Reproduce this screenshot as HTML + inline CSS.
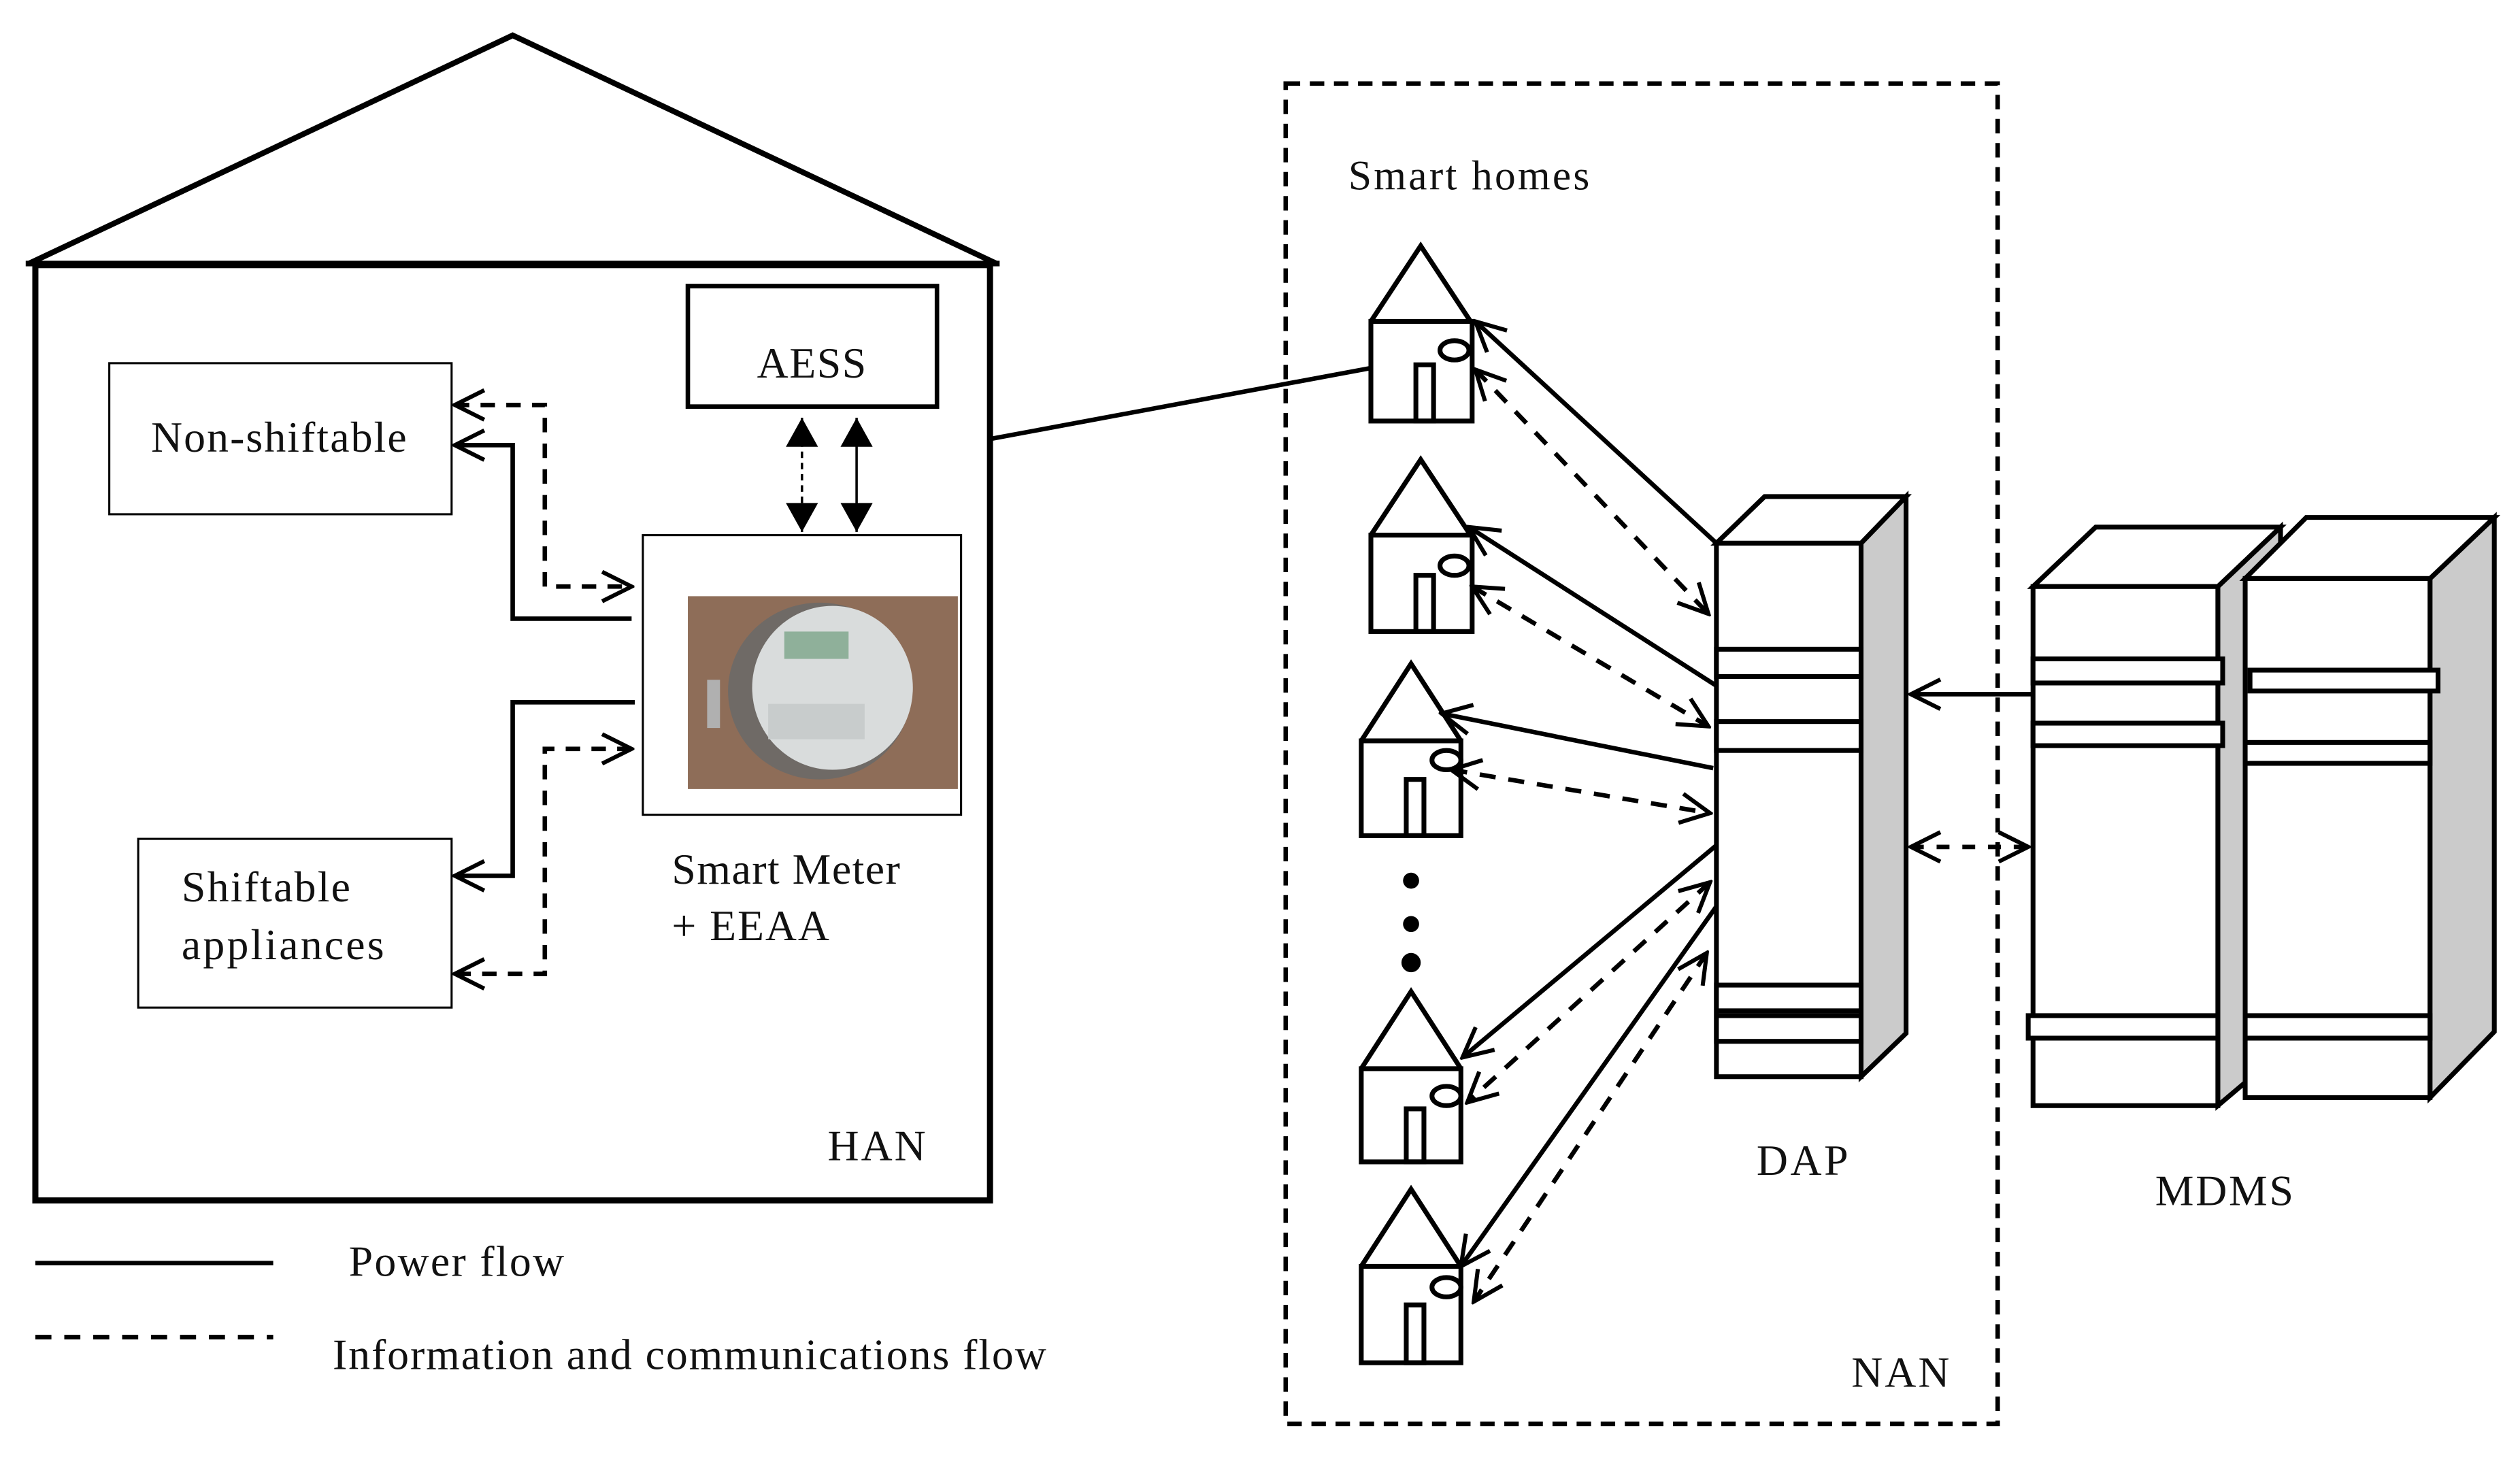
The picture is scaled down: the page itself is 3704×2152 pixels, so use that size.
<!DOCTYPE html>
<html><head><meta charset="utf-8"><style>
html,body{margin:0;padding:0;background:#fff;}
svg{display:block;}
text{font-family:"Liberation Serif",serif;fill:#111;}
</style></head><body>
<svg width="3704" height="2152" viewBox="0 0 1568 911" preserveAspectRatio="none" xmlns="http://www.w3.org/2000/svg">
<defs>
<marker id="oa" viewBox="0 0 24 24" markerWidth="22" markerHeight="22" markerUnits="userSpaceOnUse" refX="22" refY="12" orient="auto-start-reverse">
<path d="M2,2 L22,12 L2,22" fill="none" stroke="#000" stroke-width="2.8"/>
</marker>
<marker id="ft" viewBox="0 0 20 20" markerWidth="20" markerHeight="20" markerUnits="userSpaceOnUse" refX="19" refY="10" orient="auto-start-reverse">
<path d="M1,0 L19,10 L1,20 Z" fill="#000"/>
</marker>
</defs>
<rect width="1568" height="911" fill="#fff"/>

<polyline points="18,164 319,22 620,164" fill="none" stroke="#000" stroke-width="3.5"/>
<line x1="16" y1="164" x2="622" y2="164" stroke="#000" stroke-width="3.5"/>
<rect x="22" y="165" width="594" height="582" fill="none" stroke="#000" stroke-width="3.8"/>

<rect x="428" y="178" width="155" height="75" fill="none" stroke="#000" stroke-width="2.8"/>
<text x="505" y="235" font-size="27" text-anchor="middle" textLength="68">AESS</text>

<rect x="68" y="226" width="213" height="94" fill="none" stroke="#000" stroke-width="1.3"/>
<text x="94" y="281" font-size="27" textLength="159">Non-shiftable</text>

<rect x="86" y="522" width="195" height="105" fill="none" stroke="#000" stroke-width="1.3"/>
<text x="113" y="561" font-size="27" textLength="105">Shiftable</text>
<text x="113" y="597" font-size="27" textLength="126">appliances</text>

<rect x="400" y="333" width="198" height="174" fill="#fff" stroke="#000" stroke-width="1.3"/>
<rect x="428" y="371" width="168" height="120" fill="#8e6d58"/>
<ellipse cx="510" cy="430" rx="57" ry="55" fill="#6f6a66"/>
<ellipse cx="518" cy="428" rx="50" ry="51" fill="#d9dcdc"/>
<rect x="488" y="393" width="40" height="17" fill="#8fb09a"/>
<rect x="478" y="438" width="60" height="22" fill="#c8cccc"/>
<rect x="440" y="423" width="8" height="30" fill="#b0b0b0"/>
<text x="418" y="550" font-size="27" textLength="142">Smart Meter</text>
<text x="418" y="585" font-size="27" textLength="98">+ EEAA</text>

<text x="515" y="722" font-size="27" textLength="61">HAN</text>

<polyline points="393,385 319,385 319,277 283,277" fill="none" stroke="#000" stroke-width="2.8" marker-end="url(#oa)"/>
<polyline points="283,252 339,252 339,365 393,365" fill="none" stroke="#000" stroke-width="2.8" stroke-dasharray="9,7" marker-start="url(#oa)" marker-end="url(#oa)"/>
<polyline points="395,437 319,437 319,545 283,545" fill="none" stroke="#000" stroke-width="2.8" marker-end="url(#oa)"/>
<polyline points="393,466 339,466 339,606 283,606" fill="none" stroke="#000" stroke-width="2.8" stroke-dasharray="9,7" marker-start="url(#oa)" marker-end="url(#oa)"/>
<line x1="499" y1="260" x2="499" y2="331" stroke="#000" stroke-width="1.5" stroke-dasharray="4,3" marker-start="url(#ft)" marker-end="url(#ft)"/>
<line x1="533" y1="260" x2="533" y2="331" stroke="#000" stroke-width="1.5" marker-start="url(#ft)" marker-end="url(#ft)"/>

<line x1="22" y1="786" x2="170" y2="786" stroke="#000" stroke-width="2.8"/>
<text x="217" y="794" font-size="27" textLength="134">Power flow</text>
<line x1="22" y1="832" x2="170" y2="832" stroke="#000" stroke-width="2.8" stroke-dasharray="10,8"/>
<text x="207" y="852" font-size="27" textLength="444">Information and communications flow</text>

<line x1="617" y1="273" x2="853" y2="229" stroke="#000" stroke-width="2.8"/>

<rect x="800" y="52" width="443" height="834" fill="none" stroke="#000" stroke-width="2.8" stroke-dasharray="9,6"/>
<text x="839" y="118" font-size="26" textLength="150">Smart homes</text>
<text x="1152" y="863" font-size="27" textLength="61">NAN</text>

<g fill="none" stroke="#000" stroke-width="3">
<polyline points="853,200 884,153 915,200"/><rect x="853" y="200" width="63" height="62"/><rect x="881" y="227" width="11" height="35"/><ellipse cx="905" cy="218" rx="9" ry="6"/>
<polyline points="853,333 884,286 915,333"/><rect x="853" y="333" width="63" height="60"/><rect x="881" y="358" width="11" height="35"/><ellipse cx="905" cy="352" rx="9" ry="6"/>
<polyline points="847,461 878,413 909,461"/><rect x="847" y="461" width="62" height="59"/><rect x="875" y="485" width="11" height="35"/><ellipse cx="900" cy="473" rx="9" ry="6"/>
<polyline points="847,665 878,617 909,665"/><rect x="847" y="665" width="62" height="58"/><rect x="875" y="690" width="11" height="33"/><ellipse cx="900" cy="682" rx="9" ry="6"/>
<polyline points="847,788 878,740 909,788"/><rect x="847" y="788" width="62" height="60"/><rect x="875" y="812" width="11" height="36"/><ellipse cx="900" cy="801" rx="9" ry="6"/>
</g>
<circle cx="878" cy="548" r="5" fill="#000"/>
<circle cx="878" cy="575" r="5" fill="#000"/>
<circle cx="878" cy="599" r="6" fill="#000"/>

<g stroke="#000" stroke-width="2.8" fill="none">
<line x1="1068" y1="338" x2="918" y2="200" marker-end="url(#oa)"/>
<line x1="918" y1="230" x2="1063" y2="382" stroke-dasharray="10,8" marker-start="url(#oa)" marker-end="url(#oa)"/>
<line x1="1070" y1="428" x2="914" y2="328" marker-end="url(#oa)"/>
<line x1="916" y1="365" x2="1063" y2="452" stroke-dasharray="10,8" marker-start="url(#oa)" marker-end="url(#oa)"/>
<line x1="1066" y1="478" x2="897" y2="444" marker-end="url(#oa)"/>
<line x1="903" y1="479" x2="1064" y2="506" stroke-dasharray="10,8" marker-start="url(#oa)" marker-end="url(#oa)"/>
<line x1="1068" y1="526" x2="910" y2="658" marker-end="url(#oa)"/>
<line x1="1064" y1="549" x2="913" y2="686" stroke-dasharray="10,8" marker-start="url(#oa)" marker-end="url(#oa)"/>
<line x1="1068" y1="564" x2="909" y2="788" marker-end="url(#oa)"/>
<line x1="1062" y1="593" x2="917" y2="810" stroke-dasharray="10,8" marker-start="url(#oa)" marker-end="url(#oa)"/>
</g>

<g stroke="#000" stroke-width="3">
<polygon points="1158,338 1186,309 1186,643 1158,670" fill="#cbcbcb"/>
<polygon points="1068,338 1098,309 1186,309 1158,338" fill="#fff"/>
<rect x="1068" y="338" width="90" height="332" fill="#fff"/>
<rect x="1068" y="404" width="90" height="17" fill="#fff"/>
<rect x="1068" y="449" width="90" height="18" fill="#fff"/>
<rect x="1068" y="613" width="90" height="16" fill="#fff"/>
<rect x="1068" y="632" width="90" height="16" fill="#fff"/>
</g>
<text x="1093" y="731" font-size="27" textLength="57">DAP</text>

<line x1="1265" y1="432" x2="1189" y2="432" stroke="#000" stroke-width="2.8" marker-end="url(#oa)"/>
<line x1="1189" y1="527" x2="1262" y2="527" stroke="#000" stroke-width="2.8" stroke-dasharray="8,8" marker-start="url(#oa)" marker-end="url(#oa)"/>

<g stroke="#000" stroke-width="3">
<polygon points="1380,365 1419,328 1419,655 1380,688" fill="#cbcbcb"/>
<polygon points="1265,365 1304,328 1419,328 1380,365" fill="#fff"/>
<rect x="1265" y="365" width="115" height="323" fill="#fff"/>
<rect x="1265" y="410" width="118" height="15" fill="#fff"/>
<rect x="1265" y="450" width="118" height="14" fill="#fff"/>
<rect x="1262" y="632" width="118" height="14" fill="#fff"/>
<polygon points="1512,360 1552,322 1552,642 1512,683" fill="#cbcbcb"/>
<polygon points="1397,360 1435,322 1552,322 1512,360" fill="#fff"/>
<rect x="1397" y="360" width="115" height="323" fill="#fff"/>
<rect x="1400" y="417" width="117" height="13" fill="#fff"/>
<rect x="1397" y="462" width="115" height="13" fill="#fff"/>
<rect x="1397" y="632" width="115" height="14" fill="#fff"/>
</g>
<text x="1341" y="750" font-size="27" textLength="86">MDMS</text>
</svg>
</body></html>
